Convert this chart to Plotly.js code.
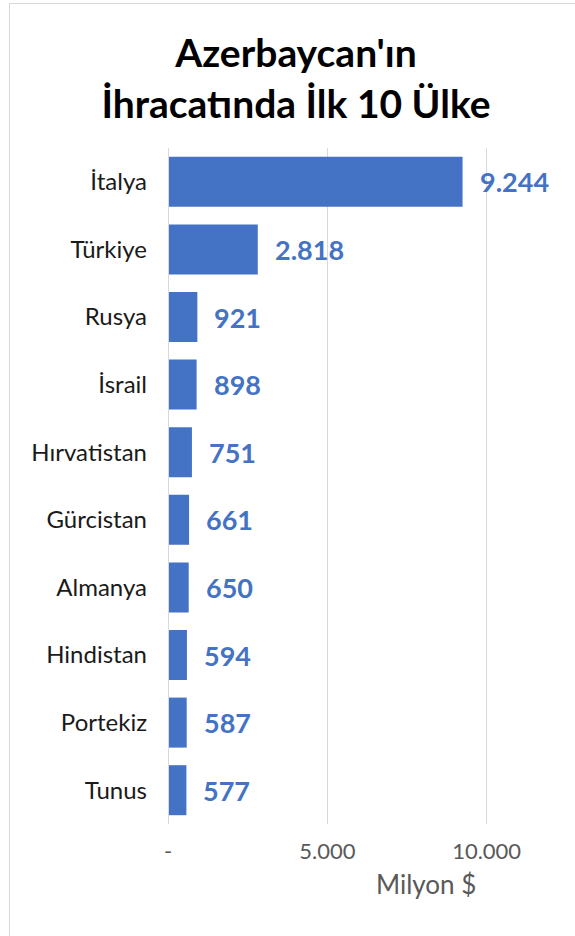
<!DOCTYPE html>
<html>
<head>
<meta charset="utf-8">
<script src="https://cdn.plot.ly/plotly-3.0.1.min.js"></script>
<style>
  html, body { margin: 0; padding: 0; background: #ffffff; overflow: hidden; }
  #chart { width: 575px; height: 936px; position: absolute; left: 0; top: 0; }
  #frame { position: absolute; left: 9px; top: 3px; width: 700px; height: 1000px;
           border: 1px solid #d9d9d9; pointer-events: none; }
</style>
</head>
<body>
<div id="chart"></div>
<div id="frame"></div>
<script>
// Data
const countries = ["İtalya", "Türkiye", "Rusya", "İsrail", "Hırvatistan", "Gürcistan", "Almanya", "Hindistan", "Portekiz", "Tunus"];
const exportsMUSD = [9244, 2818, 921, 898, 751, 661, 650, 594, 587, 577];
const tickValues = [0, 5000, 10000];
const tickLabels = ["-", "5.000", "10.000"];
const chartTitle = "Azerbaycan'ın<br>İhracatında İlk 10 Ülke";
const axisTitle = "Milyon $";

function fmt(v) {
  return String(v).replace(/\B(?=(\d{3})+(?!\d))/g, ".");
}

const FONT = "Lato, 'Noto Sans', sans-serif";
const BLUE = "#4472C4";

const trace = {
  type: "bar",
  orientation: "h",
  x: exportsMUSD,
  y: countries,
  marker: { color: BLUE },
  hoverinfo: "x+y"
};

const annotations = countries.map((c, i) => ({
  x: exportsMUSD[i], y: c, xref: "x", yref: "y",
  text: "<b>" + fmt(exportsMUSD[i]) + "</b>",
  showarrow: false, xanchor: "left", yanchor: "middle", xshift: 15, yshift: 0,
  font: { family: FONT, size: 27, color: BLUE }
}));
annotations.push({
  x: (426 - 168) / (575 - 168), y: (936 - 884 - 112) / (936 - 148 - 112),
  xref: "paper", yref: "paper",
  text: axisTitle, showarrow: false, xanchor: "center", yanchor: "middle",
  font: { family: FONT, size: 26, color: "#595959" }
});

const layout = {
  width: 575, height: 936,
  margin: { l: 168, r: 0, t: 148, b: 112 },
  paper_bgcolor: "#ffffff", plot_bgcolor: "#ffffff",
  title: {
    text: "<b>" + chartTitle + "</b>",
    x: 296 / 575, xref: "container", xanchor: "center",
    y: 1 - 67 / 936, yref: "container", yanchor: "middle",
    font: { family: FONT, size: 39, color: "#000000" }
  },
  bargap: 0.26,
  showlegend: false,
  xaxis: {
    range: [0, (575 - 168.3) / 159.2 * 5000],
    tickvals: tickValues, ticktext: tickLabels,
    showgrid: true, gridcolor: "#d9d9d9", gridwidth: 1.5,
    zeroline: false, showline: false, ticks: "",
    tickfont: { family: FONT, size: 22, color: "#595959" },
    ticklabelstandoff: 12,
    fixedrange: true
  },
  yaxis: {
    autorange: "reversed",
    showgrid: false, zeroline: false,
    showline: false, ticks: "",
    tickfont: { family: FONT, size: 24, color: "#1a1a1a" },
    ticklabelstandoff: 20,
    fixedrange: true
  },
  shapes: [{
    type: "line", xref: "x", yref: "paper", x0: 0, x1: 0, y0: 0, y1: 1,
    line: { color: "#d9d9d9", width: 2 }
  }],
  annotations: annotations
};

Plotly.newPlot("chart", [trace], layout, { displayModeBar: false, staticPlot: true });
</script>
</body>
</html>
